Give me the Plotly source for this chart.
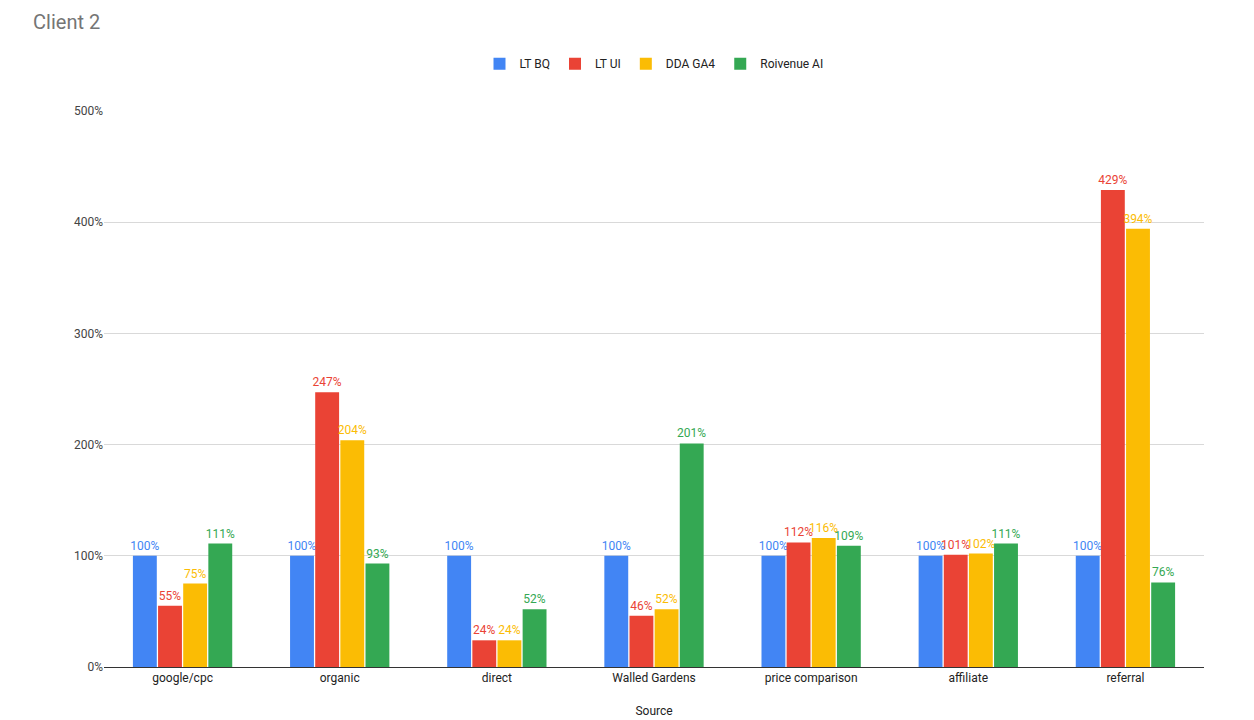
import plotly.graph_objects as go

categories = ['google/cpc', 'organic', 'direct', 'Walled Gardens',
              'price comparison', 'affiliate', 'referral']
lt_bq = [100, 100, 100, 100, 100, 100, 100]
lt_ui = [55, 247, 24, 46, 112, 101, 429]
dda_ga4 = [75, 204, 24, 52, 116, 102, 394]
roivenue_ai = [111, 93, 52, 201, 109, 111, 76]

series = [
    ('LT BQ', lt_bq, '#4285F4'),
    ('LT UI', lt_ui, '#EA4335'),
    ('DDA GA4', dda_ga4, '#FBBC04'),
    ('Roivenue AI', roivenue_ai, '#34A853'),
]

fig = go.Figure()
for name, vals, color in series:
    fig.add_trace(go.Bar(
        x=categories, y=vals, name=name,
        marker=dict(color=color, line=dict(width=0)),
        text=[f'{v}%' for v in vals],
        textposition='outside',
        textfont=dict(color=color, size=12),
        constraintext='none',
        cliponaxis=False,
    ))

fig.update_layout(
    width=1254, height=720,
    barmode='group', bargap=0.36, bargroupgap=0.05,
    margin=dict(l=96, r=58, t=103, b=52),
    plot_bgcolor='#ffffff', paper_bgcolor='#ffffff',
    font=dict(family='Roboto, Arial, sans-serif', size=12, color='#222222'),
    title=dict(text='Client 2', x=0.02, xanchor='left', y=0.99, yanchor='top',
               font=dict(size=20, color='#757575')),
    legend=dict(orientation='h', x=0.5, xanchor='center', y=1.085, yanchor='middle',
                font=dict(size=12, color='#222222')),
)
fig.update_xaxes(
    title=dict(text='Source', font=dict(size=12, color='#222222'), standoff=22),
    showline=True, linecolor='#333333', ticks='', tickfont=dict(size=12, color='#222222'),
)
fig.update_yaxes(
    range=[0, 500], dtick=100, ticksuffix='%',
    gridcolor='#d9d9d9', zeroline=False, showline=False,
    tickfont=dict(size=12, color='#444444'),
)

fig.write_html('out.html')
